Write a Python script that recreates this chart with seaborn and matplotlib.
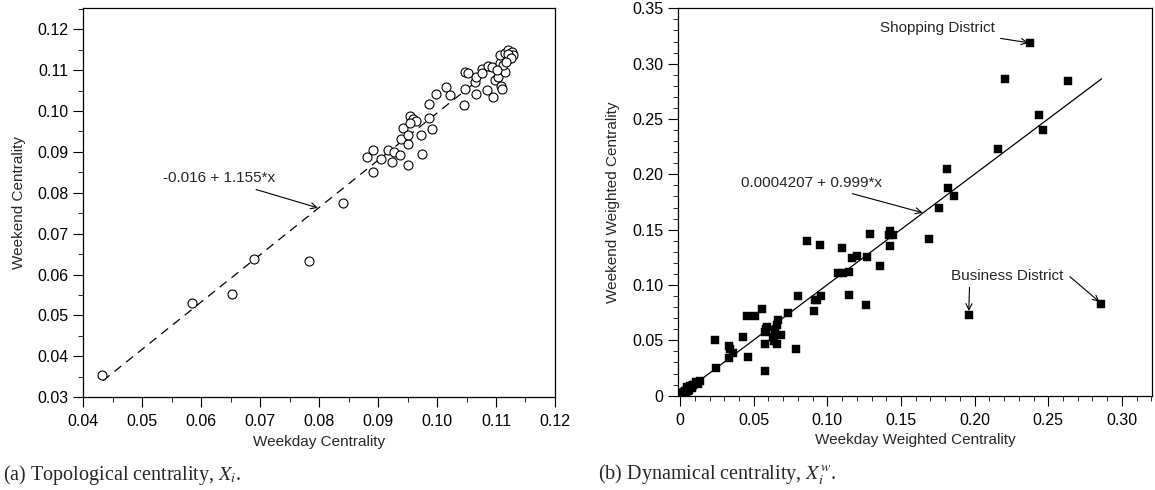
import matplotlib
matplotlib.use("Agg")
import matplotlib.pyplot as plt
import matplotlib.ticker as mticker
import pandas as pd
import seaborn as sns

# (a) topological centrality: weekday vs weekend
topo_weekday = [0.0431, 0.0584, 0.0653, 0.0690, 0.0783, 0.0840, 0.0882, 0.0891, 0.0891, 0.0905,
                0.0917, 0.0924, 0.0927, 0.0937, 0.0939, 0.0943, 0.0950, 0.0951, 0.0950, 0.0954,
                0.0960, 0.0965, 0.0954, 0.0973, 0.0974, 0.0987, 0.0991, 0.0986, 0.0998, 0.1015,
                0.1022, 0.1046, 0.1047, 0.1047, 0.1053, 0.1064, 0.1066, 0.1066, 0.1076, 0.1077,
                0.1085, 0.1087, 0.1095, 0.1094, 0.1099, 0.1104, 0.1108, 0.1110, 0.1115, 0.1107,
                0.1107, 0.1115, 0.1121, 0.1127, 0.1124, 0.1129, 0.1118, 0.1112, 0.1101, 0.1120,
                0.1125, 0.1117]
topo_weekend = [0.0354, 0.0531, 0.0552, 0.0639, 0.0633, 0.0776, 0.0888, 0.0904, 0.0851, 0.0882,
                0.0905, 0.0874, 0.0899, 0.0892, 0.0932, 0.0958, 0.0919, 0.0868, 0.0941, 0.0988,
                0.0980, 0.0976, 0.0970, 0.0941, 0.0895, 0.0982, 0.0955, 0.1017, 0.1042, 0.1058,
                0.1039, 0.1015, 0.1053, 0.1096, 0.1092, 0.1072, 0.1042, 0.1084, 0.1102, 0.1092,
                0.1051, 0.1110, 0.1033, 0.1108, 0.1076, 0.1084, 0.1061, 0.1053, 0.1096, 0.1117,
                0.1137, 0.1141, 0.1149, 0.1145, 0.1133, 0.1137, 0.1125, 0.1112, 0.1100, 0.1140,
                0.1130, 0.1120]
topo_fit = (-0.016, 1.155)
topo_fit_range = [0.0433, 0.1125]

# (b) dynamical (weighted) centrality
dyn_weekday = [0.2376, 0.2206, 0.2632, 0.2435, 0.2464, 0.2157, 0.1813, 0.1822, 0.1862, 0.1758,
               0.1693, 0.1426, 0.1417, 0.1448, 0.1428, 0.1290, 0.0864, 0.0950, 0.1102, 0.1170,
               0.1199, 0.1272, 0.1358, 0.1075, 0.1109, 0.1149, 0.1149, 0.1265, 0.1960, 0.2860,
               0.0801, 0.0917, 0.0932, 0.0957, 0.0912, 0.0731, 0.0790, 0.0664, 0.0656, 0.0645,
               0.0686, 0.0633, 0.0638, 0.0656, 0.0579, 0.0559, 0.0509, 0.0453, 0.0584, 0.0593,
               0.0577, 0.0579, 0.0430, 0.0460, 0.0335, 0.0342, 0.0362, 0.0331, 0.0236, 0.0247,
               0.0136, 0.0113, 0.0090, 0.0068, 0.0045, 0.0010, 0.0020, 0.0030, 0.0040, 0.0050,
               0.0060, 0.0070, 0.0080, 0.0000, 0.0010, 0.0090, 0.0110, 0.0120, 0.0025, 0.0055]
dyn_weekend = [0.3183, 0.2858, 0.2840, 0.2533, 0.2400, 0.2229, 0.2048, 0.1873, 0.1807, 0.1698,
               0.1418, 0.1491, 0.1452, 0.1452, 0.1355, 0.1461, 0.1397, 0.1361, 0.1337, 0.1241,
               0.1262, 0.1253, 0.1172, 0.1108, 0.1108, 0.1117, 0.0910, 0.0817, 0.0729, 0.0828,
               0.0903, 0.0867, 0.0867, 0.0898, 0.0765, 0.0747, 0.0422, 0.0684, 0.0641, 0.0593,
               0.0548, 0.0528, 0.0494, 0.0470, 0.0223, 0.0783, 0.0717, 0.0720, 0.0602, 0.0618,
               0.0578, 0.0464, 0.0528, 0.0347, 0.0449, 0.0422, 0.0383, 0.0338, 0.0503, 0.0248,
               0.0136, 0.0112, 0.0097, 0.0090, 0.0081, 0.0010, 0.0020, 0.0040, 0.0030, 0.0060,
               0.0050, 0.0080, 0.0070, 0.0005, 0.0025, 0.0100, 0.0120, 0.0110, 0.0030, 0.0045]
dyn_fit = (0.0004207, 0.999)
dyn_fit_range = [0.0, 0.2862]

topo = pd.DataFrame({"weekday": topo_weekday, "weekend": topo_weekend})
dyn = pd.DataFrame({"weekday": dyn_weekday, "weekend": dyn_weekend})

sns.set_style("ticks")
plt.rcParams["font.family"] = ["Liberation Sans", "DejaVu Sans"]
plt.rcParams["mathtext.fontset"] = "stix"
plt.rcParams["axes.linewidth"] = 0.9

fig = plt.figure(figsize=(11.55, 4.9), dpi=100)
ax1 = fig.add_axes([0.0721, 0.1892, 0.4084, 0.7939])
ax2 = fig.add_axes([0.5868, 0.1918, 0.4106, 0.7912])

# left panel
sns.scatterplot(data=topo, x="weekday", y="weekend", ax=ax1, marker="o", s=42,
                facecolor="white", edgecolor="black", linewidth=0.8, zorder=3)
b0, b1 = topo_fit
ax1.plot(topo_fit_range, [b0 + b1 * v for v in topo_fit_range], color="black",
         lw=0.9, dashes=(7, 5), zorder=2)
ax1.annotate("-0.016 + 1.155*x", xy=(0.0798, 0.0763), xytext=(0.0725, 0.0835),
             ha="right", va="center", fontsize=11,
             arrowprops=dict(arrowstyle="->", color="black", lw=0.8, shrinkA=2, shrinkB=0))
ax1.set_xlim(0.04, 0.12)
ax1.set_ylim(0.03, 0.1251)
ax1.xaxis.set_major_locator(mticker.MultipleLocator(0.01))
ax1.xaxis.set_minor_locator(mticker.MultipleLocator(0.005))
ax1.yaxis.set_major_locator(mticker.MultipleLocator(0.01))
ax1.yaxis.set_minor_locator(mticker.MultipleLocator(0.005))
ax1.xaxis.set_major_formatter(mticker.FormatStrFormatter("%.2f"))
ax1.yaxis.set_major_formatter(mticker.FormatStrFormatter("%.2f"))
ax1.set_xlabel("Weekday Centrality", fontsize=11)
ax1.set_ylabel("Weekend Centrality", fontsize=11, labelpad=8)

# right panel
sns.scatterplot(data=dyn, x="weekday", y="weekend", ax=ax2, marker="s", s=34,
                color="black", edgecolor="black", linewidth=0.3, zorder=3)
c0, c1 = dyn_fit
ax2.plot(dyn_fit_range, [c0 + c1 * v for v in dyn_fit_range], color="black", lw=0.9, zorder=2)
arrow = dict(arrowstyle="->", color="black", lw=0.8, shrinkA=2, shrinkB=0)
ax2.annotate("0.0004207 + 0.999*x", xy=(0.1647, 0.1653), xytext=(0.1372, 0.1925),
             ha="right", va="center", fontsize=11, arrowprops=arrow)
ax2.annotate("Shopping District", xy=(0.2365, 0.3189), xytext=(0.2135, 0.3318),
             ha="right", va="center", fontsize=11, arrowprops=arrow)
ax2.annotate("Business District", xy=(0.196, 0.0765), xytext=(0.2223, 0.1084),
             ha="center", va="center", fontsize=11,
             arrowprops=dict(arrowstyle="->", color="black", lw=0.8,
                             shrinkA=1, shrinkB=0, relpos=(0.163, 0.0)))
ax2.annotate("", xy=(0.2846, 0.0849), xytext=(0.2647, 0.1075),
             arrowprops=dict(arrowstyle="->", color="black", lw=0.8, shrinkA=0, shrinkB=0))
ax2.set_xlim(-0.0016, 0.3204)
ax2.set_ylim(-0.0003, 0.35)
ax2.xaxis.set_major_locator(mticker.MultipleLocator(0.05))
ax2.xaxis.set_minor_locator(mticker.MultipleLocator(0.01))
ax2.yaxis.set_major_locator(mticker.MultipleLocator(0.05))
ax2.yaxis.set_minor_locator(mticker.MultipleLocator(0.01))
fmt = mticker.FuncFormatter(lambda v, p: "0" if abs(v) < 1e-9 else f"{v:.2f}")
ax2.xaxis.set_major_formatter(fmt)
ax2.yaxis.set_major_formatter(fmt)
ax2.set_xlabel("Weekday Weighted Centrality", fontsize=11)
ax2.set_ylabel("Weekend Weighted Centrality", fontsize=11, labelpad=9)

for ax in (ax1, ax2):
    for sp in ax.spines.values():
        sp.set_visible(True)
        sp.set_color("black")
    ax.tick_params(which="major", direction="out", length=7, width=0.8,
                   labelsize=11.5, colors="black")
    ax.tick_params(which="minor", direction="out", length=3.5, width=0.7)
    ax.tick_params(axis="x", which="major", pad=5)
    ax.tick_params(axis="y", which="major", pad=3.5)
    ax.tick_params(which="both", top=False, right=False)

fig.text(0.003, 0.0204, "(a) Topological centrality, $X_i$.", fontsize=14.5,
         family="Liberation Serif", ha="left", va="baseline")
fig.text(0.518, 0.0204, "(b) Dynamical centrality, $X_i^{w}$.", fontsize=14.5,
         family="Liberation Serif", ha="left", va="baseline")

fig.savefig("out.png", dpi=100)
